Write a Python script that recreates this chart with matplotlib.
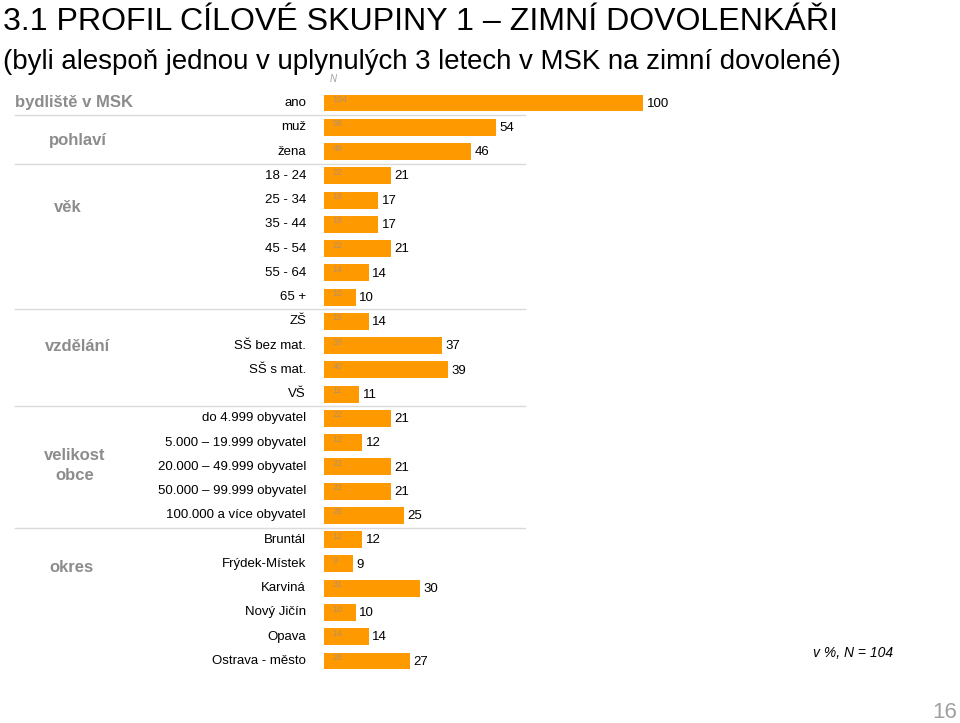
import matplotlib.pyplot as plt
import matplotlib.transforms as mtransforms

plt.rcParams['font.family'] = ['Liberation Sans', 'DejaVu Sans']

categories = ["ano", "muž", "žena", "18 - 24", "25 - 34", "35 - 44", "45 - 54",
              "55 - 64", "65 +", "ZŠ", "SŠ bez mat.", "SŠ s mat.", "VŠ",
              "do 4.999 obyvatel", "5.000 – 19.999 obyvatel",
              "20.000 – 49.999 obyvatel", "50.000 – 99.999 obyvatel",
              "100.000 a více obyvatel", "Bruntál", "Frýdek-Místek", "Karviná",
              "Nový Jičín", "Opava", "Ostrava - město"]
percent = [100, 54, 46, 21, 17, 17, 21, 14, 10, 14, 37, 39, 11,
           21, 12, 21, 21, 25, 12, 9, 30, 10, 14, 27]
counts = [104, 56, 48, 22, 18, 18, 22, 14, 10, 15, 38, 40, 11,
          22, 12, 22, 22, 26, 12, 9, 31, 10, 14, 28]

# group name, row position of the label, x centre in pixels (None = left)
groups = [("bydliště v MSK", 0, None), ("pohlaví", 1.55, 78),
          ("věk", 4.3, 68), ("vzdělání", 10.05, 78),
          ("velikost\nobce", 14.95, 75), ("okres", 19.15, 71)]
separators = [0.5, 2.5, 8.5, 12.5, 17.5]

title = "3.1 PROFIL CÍLOVÉ SKUPINY 1 – ZIMNÍ DOVOLENKÁŘI"
subtitle = "(byli alespoň jednou v uplynulých 3 letech v MSK na zimní dovolené)"

W, H = 960, 723
fig = plt.figure(figsize=(W / 100, H / 100), dpi=100)

# bar area: x 0..100 -> px 324..643, rows 0..23 -> px 103..661
row_h = (661 - 103) / 23
top = 103 - row_h / 2
bottom = 661 + row_h / 2
ax = fig.add_axes([324 / W, 1 - bottom / H, 319 / W, (bottom - top) / H])
ax.set_xlim(0, 100)
ax.set_ylim(len(categories) - 0.5, -0.5)
ax.axis("off")

rows = list(range(len(categories)))
ax.barh(rows, percent, height=0.7, color="#FF9900")

for r, p, n in zip(rows, percent, counts):
    ax.annotate(str(p), (p, r), xytext=(2.5, -0.5), textcoords="offset points",
                va="center", ha="left", fontsize=9.5, color="black")
    ax.annotate(str(n), (0, r), xytext=(6, 2.5), textcoords="offset points",
                va="center", ha="left", fontsize=6.5, color="#B89068")

# x in figure pixels, y in data rows
px = mtransforms.blended_transform_factory(
    mtransforms.Affine2D().scale(1 / W, 1) + fig.transFigure, ax.transData)

for r, c in zip(rows, categories):
    ax.text(306, r, c, transform=px, ha="right", va="center",
            fontsize=9.5, clip_on=False)

for s in separators:
    ax.plot([15, 525], [s, s], transform=px, color="#DADADA", lw=1,
            clip_on=False)

for name, y, xc in groups:
    ax.text(15 if xc is None else xc, y, name, transform=px,
            ha="left" if xc is None else "center", va="center", fontsize=12,
            fontweight="bold", color="#8C8C8C", clip_on=False,
            linespacing=1.45, multialignment="center")

ax.text(333, -1.0, "N", transform=px, ha="center", va="center",
        fontsize=7, style="italic", color="#A0A0A0", clip_on=False)

# titles scaled to the width they take in the reference
renderer = fig.canvas.get_renderer()
t1 = fig.text(3 / W, 1 - 22 / H, title, ha="left", va="center",
              fontsize=24, color="black")
t2 = fig.text(3 / W, 1 - 62 / H, subtitle, ha="left", va="center",
              fontsize=18, color="black")
for t, target in [(t1, 838), (t2, 842)]:
    w = t.get_window_extent(renderer).width
    t.set_fontsize(t.get_fontsize() * target / w)

fig.text(893 / W, 1 - 653 / H, "v %, N = 104", ha="right", va="center",
         fontsize=10, style="italic")
fig.text(957 / W, 1 - 712 / H, "16", ha="right", va="center",
         fontsize=16, color="#A0A0A0")

fig.savefig("out.png", dpi=100)
